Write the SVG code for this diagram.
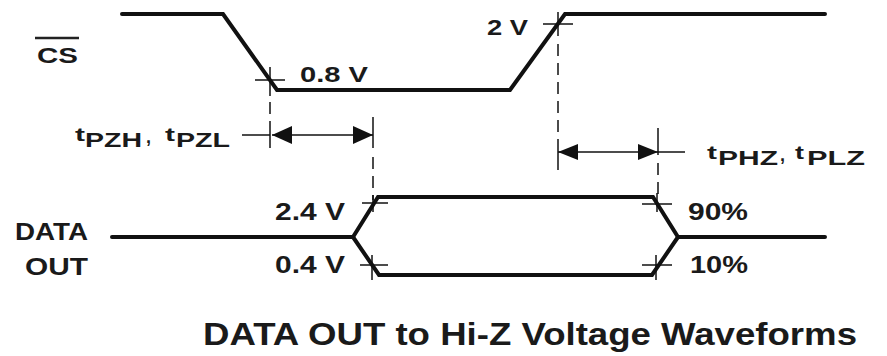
<svg xmlns="http://www.w3.org/2000/svg" width="887" height="356" viewBox="0 0 887 356">
<defs>
<style>
.wave{fill:none;stroke:#111;stroke-width:4;stroke-linejoin:miter;stroke-linecap:round}
.thin{fill:none;stroke:#111;stroke-width:1.5}
.dash{fill:none;stroke:#111;stroke-width:1.5;stroke-dasharray:12,7}
.lbl{font-family:"Liberation Sans",Arial,sans-serif;font-weight:bold;fill:#1a1a1a}
</style>
<marker id="ah" viewBox="0 0 20 18" refX="20" refY="9" markerWidth="20" markerHeight="18" markerUnits="userSpaceOnUse" orient="auto-start-reverse">
<path d="M0,0 L20,9 L0,18 z" fill="#111"/>
</marker>
<marker id="ah2" viewBox="0 0 20 16" refX="20" refY="8" markerWidth="20" markerHeight="16" markerUnits="userSpaceOnUse" orient="auto-start-reverse">
<path d="M0,0 L20,8 L0,16 z" fill="#111"/>
</marker>
</defs>
<rect width="887" height="356" fill="#fff"/>

<g id="cs">
<polyline class="wave" points="122,14 223,14 277,90 510,90 565,14 825,14"/>
<line x1="35" y1="38" x2="79" y2="38" stroke="#222" stroke-width="2.5"/>
<text class="lbl" x="37" y="63" font-size="21.5" textLength="41" lengthAdjust="spacingAndGlyphs">CS</text>
<line class="thin" x1="255" y1="80" x2="285" y2="80"/>
<text class="lbl" x="300" y="82" font-size="22" textLength="68" lengthAdjust="spacingAndGlyphs">0.8 V</text>
<line class="thin" x1="543" y1="24" x2="573" y2="24"/>
<text class="lbl" x="487" y="35" font-size="21.5" textLength="41" lengthAdjust="spacingAndGlyphs">2 V</text>
</g>

<g id="data-out">
<polyline class="wave" points="112,237 353,237 378,197 653,197 678,237 825,237"/>
<polyline class="wave" points="353,237 379,275 652,275 678,237"/>
<text class="lbl" x="15" y="240" font-size="24.5" textLength="73" lengthAdjust="spacingAndGlyphs">DATA</text>
<text class="lbl" x="25" y="275" font-size="24" textLength="63" lengthAdjust="spacingAndGlyphs">OUT</text>
<line class="thin" x1="362" y1="203" x2="388" y2="203"/>
<line class="thin" x1="360" y1="265" x2="388" y2="265"/>
<line class="thin" x1="372" y1="255" x2="372" y2="280"/>
<line class="thin" x1="642" y1="204" x2="672" y2="204"/>
<line class="thin" x1="642" y1="265" x2="672" y2="265"/>
<line class="thin" x1="656" y1="255" x2="656" y2="280"/>
<text class="lbl" x="275" y="220" font-size="23" textLength="70" lengthAdjust="spacingAndGlyphs">2.4 V</text>
<text class="lbl" x="275" y="273" font-size="23" textLength="70" lengthAdjust="spacingAndGlyphs">0.4 V</text>
<text class="lbl" x="688" y="220" font-size="23" textLength="60" lengthAdjust="spacingAndGlyphs">90%</text>
<text class="lbl" x="690" y="273" font-size="23" textLength="58" lengthAdjust="spacingAndGlyphs">10%</text>
</g>

<g id="connectors">
<line class="thin" x1="270" y1="67" x2="270" y2="96"/>
<line class="dash" x1="270" y1="102" x2="270" y2="128"/>
<line class="thin" x1="270" y1="128" x2="270" y2="148"/>
<line class="thin" x1="373" y1="117" x2="373" y2="148"/>
<line class="dash" x1="373" y1="157" x2="373" y2="200"/>
<line class="thin" x1="373" y1="195" x2="373" y2="212"/>
<line class="thin" x1="242" y1="135" x2="270" y2="135"/>
<line class="thin" x1="272" y1="135" x2="373" y2="135" marker-start="url(#ah)" marker-end="url(#ah)"/>

<line class="thin" x1="558" y1="12" x2="558" y2="36"/>
<line class="dash" x1="558" y1="44" x2="558" y2="140"/>
<line class="thin" x1="558" y1="140" x2="558" y2="170"/>
<line class="thin" x1="658" y1="128" x2="658" y2="155"/>
<line class="dash" x1="658" y1="163" x2="658" y2="195"/>
<line class="thin" x1="657" y1="193" x2="657" y2="212"/>
<line class="thin" x1="558" y1="152" x2="658" y2="152" marker-start="url(#ah2)" marker-end="url(#ah2)"/>
<line class="thin" x1="658" y1="152" x2="685" y2="152"/>
</g>

<g id="labels">
<text class="lbl" x="75" y="141" font-size="18" textLength="10" lengthAdjust="spacingAndGlyphs">t</text>
<text class="lbl" x="85" y="147" font-size="20" textLength="57" lengthAdjust="spacingAndGlyphs">PZH</text>
<text class="lbl" x="146" y="143" font-size="18">,</text>
<text class="lbl" x="165" y="141" font-size="18" textLength="10" lengthAdjust="spacingAndGlyphs">t</text>
<text class="lbl" x="176" y="147" font-size="20" textLength="54" lengthAdjust="spacingAndGlyphs">PZL</text>

<text class="lbl" x="707" y="159" font-size="18" textLength="10" lengthAdjust="spacingAndGlyphs">t</text>
<text class="lbl" x="718" y="165" font-size="20" textLength="60" lengthAdjust="spacingAndGlyphs">PHZ</text>
<text class="lbl" x="780" y="161" font-size="18">,</text>
<text class="lbl" x="795" y="159" font-size="18" textLength="9" lengthAdjust="spacingAndGlyphs">t</text>
<text class="lbl" x="807" y="165" font-size="20" textLength="58" lengthAdjust="spacingAndGlyphs">PLZ</text>

<text class="lbl" x="203" y="345" font-size="30.5" textLength="654" lengthAdjust="spacingAndGlyphs">DATA OUT to Hi-Z Voltage Waveforms</text>
</g>
</svg>
